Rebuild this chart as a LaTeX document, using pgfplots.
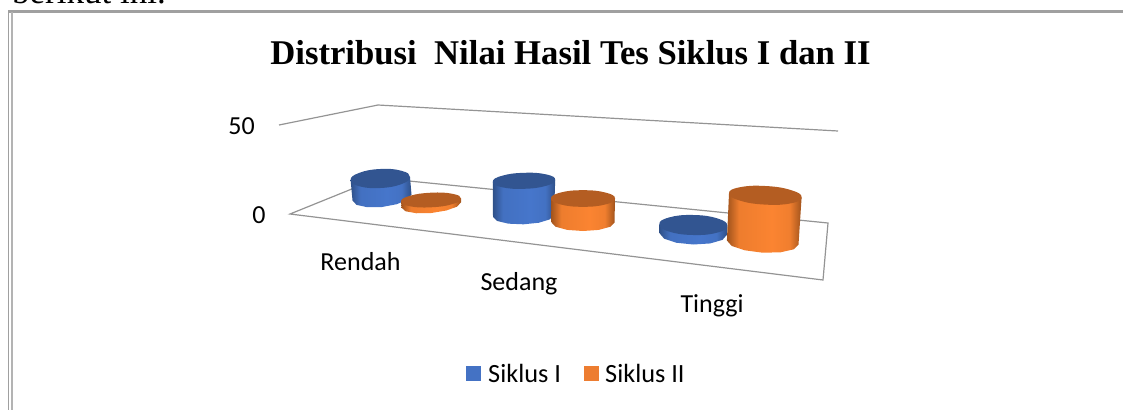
\documentclass[border=0pt]{standalone}
\usepackage{pgfplots}
\usepackage{fontspec}
\pgfplotsset{compat=1.18}
\setmainfont{Liberation Serif}
\newfontfamily\calf{Carlito}
\definecolor{frameg}{HTML}{A0A0A0}
\definecolor{wall}{HTML}{949494}
\definecolor{topB}{HTML}{325591}
\definecolor{topO}{HTML}{B45D22}
\definecolor{legB}{HTML}{4472C4}
\definecolor{legO}{HTML}{ED7D31}
\definecolor{b0}{HTML}{2F5088}
\definecolor{b1}{HTML}{4676CB}
\definecolor{o0}{HTML}{A0531C}
\definecolor{o1}{HTML}{FB8431}
\pgfdeclarehorizontalshading{cylB}{100bp}{color(0bp)=(b0); color(25bp)=(b0); color(33bp)=(b1!85!b0); color(55bp)=(b1); color(67bp)=(b1!88!b0); color(75bp)=(b0); color(100bp)=(b0)}
\pgfdeclarehorizontalshading{cylO}{100bp}{color(0bp)=(o0); color(25bp)=(o0); color(33bp)=(o1!85!o0); color(55bp)=(o1); color(67bp)=(o1!88!o0); color(75bp)=(o0); color(100bp)=(o0)}
\pgfplotsset{
  sideB/.style={draw=none,shading=cylB,forget plot},
  sideO/.style={draw=none,shading=cylO,forget plot},
  capB/.style={draw=none,fill=topB,smooth cycle,tension=0.8,forget plot},
  capO/.style={draw=none,fill=topO,smooth cycle,tension=0.8,forget plot},
  grid line/.style={draw=wall,line width=1.2pt,forget plot},
}
\begin{document}
\begin{tikzpicture}[x=1pt,y=1pt]
\useasboundingbox (0,0) rectangle (1123pt,410pt);
\clip (0,0) rectangle (1123pt,410pt);
\begin{axis}[
  at={(0,0)},anchor=south west,scale only axis,
  width=1123pt,height=410pt,
  xmin=0,xmax=1123,ymin=0,ymax=410,y dir=reverse,
  hide axis,clip=true]
% page frame
\addplot[draw=frameg,line width=2.4pt,forget plot] coordinates {(8,11.3) (1123,11.3)};
\addplot[draw=frameg,line width=1.5pt,forget plot] coordinates {(8.7,11) (8.7,410)};
\addplot[draw=frameg!80,line width=1.5pt,forget plot] coordinates {(12.2,12) (12.2,410)};
% wall and floor
\addplot[grid line] coordinates {(279,125) (378,105) (838,131)};
\addplot[grid line] coordinates {(379,178) (290,214) (823,280) (828,223) (379,178)};
% Rendah, Siklus I
\addplot[sideB] coordinates {(350.6,180) (352.5,200.5) (356.5,204.85) (367.25,207.2) (382,207) (396.75,204.2) (407.5,199.65) (411.5,194.5) (410,177)} --cycle;
\addplot[capB] coordinates {(410,177) (401.3,184.15) (380.3,188) (359.3,186.25) (350.6,180) (359.3,172.85) (380.3,169) (401.3,170.75)};
% Rendah, Siklus II
\addplot[sideO] coordinates {(401,201.5) (401.6,207.7) (405.6,211.3) (416.45,213.25) (431.3,213) (446.15,210.55) (457,206.7) (461,202.3) (461,198.5)} --cycle;
\addplot[capO] coordinates {(461,198.5) (452.2,204.15) (431,207.3) (409.8,206.25) (401,201.5) (409.8,195.85) (431,192.7) (452.2,193.75)};
% Sedang, Siklus I
\addplot[sideB] coordinates {(492.8,181.8) (493,216.9) (497.1,220.95) (508.25,223.65) (523.5,224.3) (538.75,222.75) (549.9,219.35) (554,215.1) (555.2,179.8)} --cycle;
\addplot[capB] coordinates {(555.2,179.8) (546.1,185.8) (524,188.8) (501.9,187.2) (492.8,181.8) (501.9,175.8) (524,172.8) (546.1,174.4)};
% Sedang, Siklus II
\addplot[sideO] coordinates {(551,198.5) (551.5,222.5) (555.7,226.75) (567.25,229.9) (583,231) (598.75,229.9) (610.3,226.75) (614.5,222.5) (615,198.5)} --cycle;
\addplot[capO] coordinates {(615,198.5) (605.6,204.4) (583,206.8) (560.4,204.4) (551,198.5) (560.4,192.6) (583,190.2) (605.6,192.6)};
% Tinggi, Siklus I
\addplot[sideB] coordinates {(659.3,224.3) (659.6,233.3) (664.1,238.65) (676.45,242.75) (693.3,244.5) (710.15,243.45) (722.5,239.85) (727,234.7) (727.3,225.7)} --cycle;
\addplot[capB] coordinates {(727.3,225.7) (717.3,232.6) (693.3,235) (669.3,231.6) (659.3,224.3) (669.3,217.4) (693.3,215) (717.3,218.4)};
% Tinggi, Siklus II
\addplot[sideO] coordinates {(729,193.3) (726.9,240.5) (731.7,245.9) (744.8,250.3) (762.7,252.7) (780.6,252.3) (793.7,249.3) (798.5,244.5) (801.6,197.3)} --cycle;
\addplot[capO] coordinates {(801.6,197.3) (791,203.3) (765.3,204.6) (739.6,200.5) (729,193.3) (739.6,187.3) (765.3,186) (791,190.1)};
% legend keys
\addplot[draw=none,fill=legB,forget plot] coordinates {(466,366) (481,366) (481,381) (466,381)} --cycle;
\addplot[draw=none,fill=legO,forget plot] coordinates {(584,366) (599,366) (599,381) (584,381)} --cycle;
% text
\node[anchor=base west,inner sep=0pt] at (axis cs:12,3.5) {\fontsize{35}{35}\selectfont berikut ini.};
\node[anchor=center,inner sep=0pt] at (axis cs:570.5,53) {\fontsize{34.7}{35}\selectfont\bfseries Distribusi\hspace{0.25em} Nilai Hasil Tes Siklus I dan II};
\node[anchor=center,inner sep=0pt] at (axis cs:241.5,126) {\calf\fontsize{26}{26}\selectfont 50};
\node[anchor=center,inner sep=0pt] at (axis cs:259,215.5) {\calf\fontsize{26}{26}\selectfont 0};
\node[anchor=center,inner sep=0pt] at (axis cs:360.5,262) {\calf\fontsize{26}{26}\selectfont Rendah};
\node[anchor=center,inner sep=0pt] at (axis cs:519,284) {\calf\fontsize{26}{26}\selectfont Sedang};
\node[anchor=center,inner sep=0pt] at (axis cs:712,306) {\calf\fontsize{26}{26}\selectfont Tinggi};
\node[anchor=west,inner sep=0pt] at (axis cs:488,373.5) {\calf\fontsize{26.3}{26}\selectfont Siklus I};
\node[anchor=west,inner sep=0pt] at (axis cs:605,373.5) {\calf\fontsize{26.3}{26}\selectfont Siklus II};
\end{axis}
\end{tikzpicture}
\end{document}
